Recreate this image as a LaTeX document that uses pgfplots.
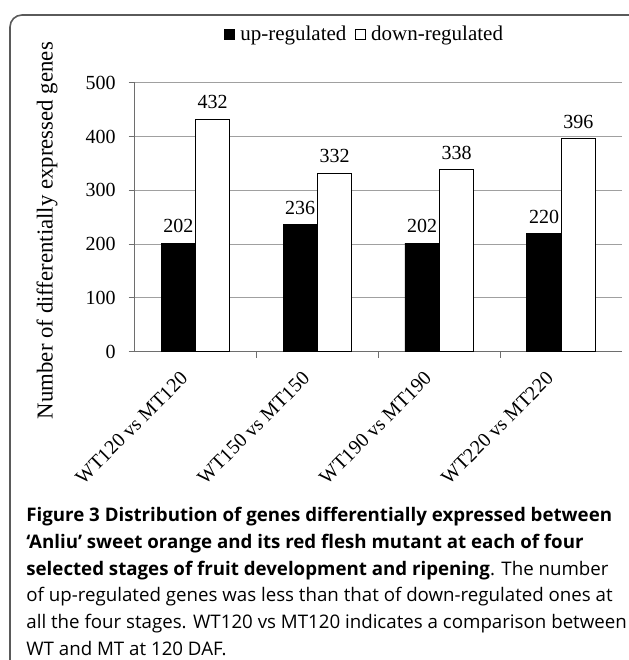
\documentclass[border=0pt]{standalone}
\usepackage{pgfplots}
\pgfplotsset{compat=1.18}
\usepackage{fontspec}
\setmainfont{Liberation Serif}
\newfontfamily\capfont{Open Sans}
\definecolor{axgray}{RGB}{110,110,110}
\definecolor{gridgray}{RGB}{160,160,160}
\definecolor{framegray}{RGB}{90,90,90}
\begin{document}
\begin{tikzpicture}[x=1pt,y=1pt]
\useasboundingbox (0,0) rectangle (314,330);
\draw[framegray, line width=0.8pt, rounded corners=6pt] (5,-20) -- (5,322.5) -- (340,322.5);
\begin{axis}[
  at={(67.3pt,154.15pt)}, anchor=south west,
  scale only axis, width=243.8pt, height=134.5pt,
  xmin=-0.5, xmax=3.5, ymin=0, ymax=500,
  axis x line*=bottom, axis y line*=left,
  axis line style={-, axgray, line width=0.6pt},
  ytick={0,100,...,500},
  ymajorgrids, grid style={gridgray, line width=0.5pt},
  xtick={0,1,2,3},
  xticklabels={WT120 vs MT120, WT150 vs MT150, WT190 vs MT190, WT220 vs MT220},
  major x tick style={draw=none},
  minor xtick={0.5,1.5,2.5},
  minor x tick style={axgray, line width=0.5pt},
  minor tick length=3pt,
  major tick length=3pt,
  tick align=outside,
  y tick style={axgray, line width=0.5pt},
  xticklabel style={rotate=45, anchor=north east, font=\fontsize{10}{12}\selectfont, xshift=-6.7pt, yshift=4.8pt},
  yticklabel style={font=\fontsize{10}{12}\selectfont, xshift=-3pt},
  /pgf/number format/assume math mode=true,
  ybar, bar width=17.2pt,
  nodes near coords,
  every node near coord/.append style={font=\fontsize{10}{12}\selectfont, yshift=1.5pt},
  legend style={draw=none, fill=none, at={(0.472,1.178)}, anchor=center,
    legend columns=-1, font=\fontsize{10.5}{12}\selectfont,
    /tikz/every odd column/.append style={column sep=1.5pt},
    /tikz/every even column/.append style={column sep=3pt},
    inner sep=0pt, nodes={inner sep=1.2pt}},
  legend image code/.code={\draw[#1] (0pt,-2.5pt) rectangle (5pt,2.5pt);},
  clip=false,
]
\addplot[fill=black, draw=black, bar shift=-8.6pt] coordinates {(0,202) (1,236) (2,202) (3,220)};
\addplot[fill=white, draw=black, line width=0.5pt, bar shift=8.6pt] coordinates {(0,432) (1,332) (2,338) (3,396)};
\legend{up-regulated, down-regulated}
\end{axis}
\node[rotate=90, font=\fontsize{11.4}{14}\selectfont] at (23.5,214.7) {Number of differentially expressed genes};
\node[anchor=north west, align=left, inner sep=0pt, font=\capfont\fontsize{9.35}{13.35}\selectfont] at (13,76.5)
{\textbf{Figure 3 Distribution of genes differentially expressed between}\\
\textbf{‘Anliu’ sweet orange and its red flesh mutant at each of four}\\
\textbf{selected stages of fruit development and ripening}. The number\\
of up-regulated genes was less than that of down-regulated ones at\\
all the four stages. WT120 vs MT120 indicates a comparison between\\
WT and MT at 120 DAF.};
\end{tikzpicture}
\end{document}
